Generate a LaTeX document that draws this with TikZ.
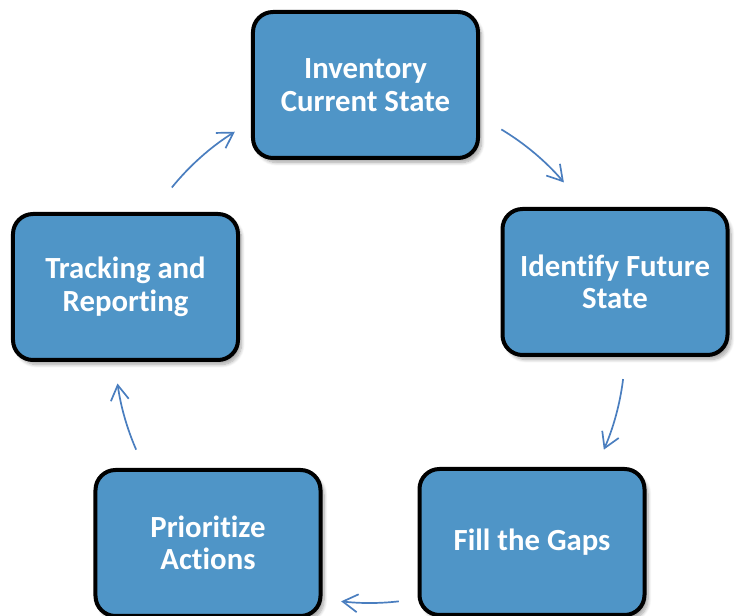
\documentclass[tikz,border=0pt]{standalone}
\usepackage{fontspec}
\setmainfont{Carlito}[Ligatures=NoCommon]
\usetikzlibrary{arrows.meta,shadows.blur}

\definecolor{stageblue}{HTML}{4F95C7}
\definecolor{flowblue}{HTML}{4A7EBF}

\tikzset{
  stage/.style={draw=black, line width=0.8mm, fill=stageblue, rounded corners=4mm,
    minimum width=45mm, minimum height=29.2mm, align=center, text=white,
    font=\fontsize{17.5}{18.5}\selectfont\bfseries,
    blur shadow={shadow xshift=0.7mm, shadow yshift=-0.9mm, shadow opacity=35, shadow blur steps=8}},
  flow/.style={draw=flowblue, line width=0.34mm, -{Straight Barb[length=3mm,width=3.6mm]}}
}

\begin{document}
\begin{tikzpicture}[x=0.2mm, y=-0.2mm]
  \useasboundingbox (0,0) rectangle (738,616);
  % the five stages of the cycle
  \node[stage] (inv) at (365.5,85)  {Inventory\\Current State};
  \node[stage] (fut) at (615,282)   {Identify Future\\State};
  \node[stage] (gap) at (532,542)   {Fill the Gaps};
  \node[stage] (act) at (208,543)   {Prioritize\\Actions};
  \node[stage] (trk) at (125.5,287) {Tracking and\\Reporting};
  % arrows run on one circle round the middle
  \coordinate (mid) at (370,348);
  \coordinate (f1) at ([shift={(-59:255)}]mid);
  \coordinate (f2) at ([shift={(7:255)}]mid);
  \coordinate (f3) at ([shift={(83.5:255)}]mid);
  \coordinate (f4) at ([shift={(156.5:255)}]mid);
  \coordinate (f5) at ([shift={(219:255)}]mid);
  \draw[flow] (f1) arc[start angle=-59, end angle=-40.5, radius=255];
  \draw[flow] (f2) arc[start angle=7, end angle=23.5, radius=255];
  \draw[flow] (f3) arc[start angle=83.5, end angle=96.5, radius=255];
  \draw[flow] (f4) arc[start angle=156.5, end angle=172, radius=255];
  \draw[flow] (f5) arc[start angle=219, end angle=238, radius=255];
\end{tikzpicture}
\end{document}
